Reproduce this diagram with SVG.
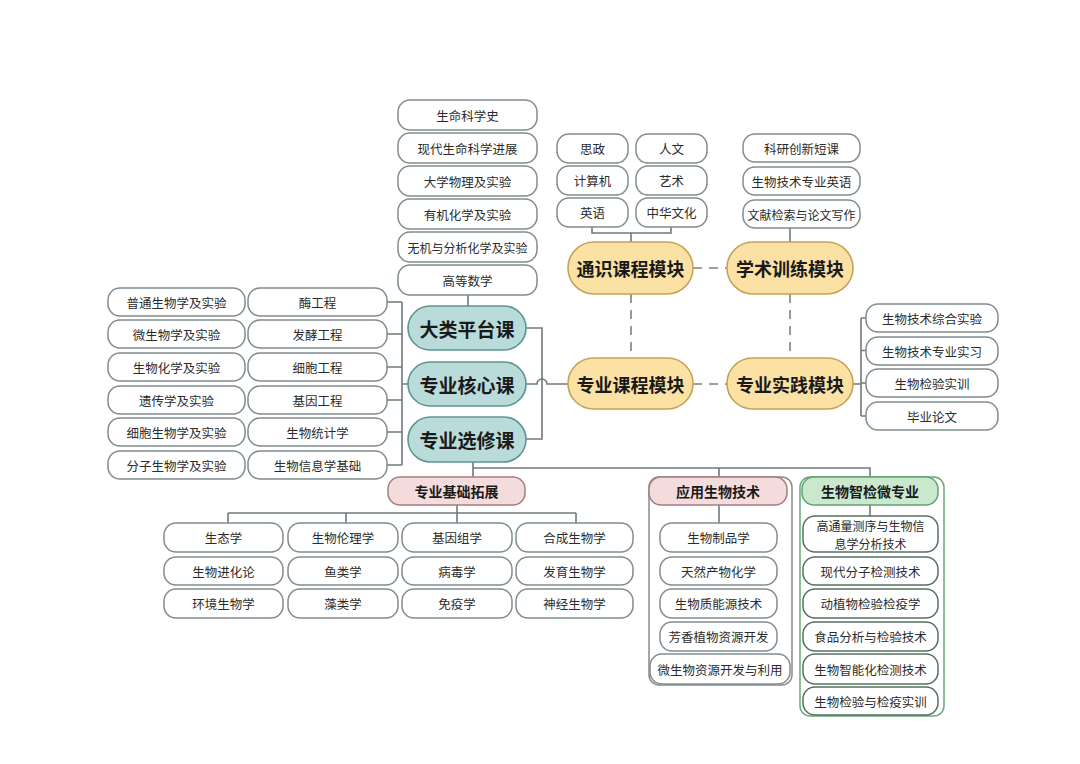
<svg xmlns="http://www.w3.org/2000/svg" width="1080" height="764" viewBox="0 0 1080 764">
<style>
text{font-family:"Noto Sans CJK SC","Noto Sans",sans-serif;fill:#2b2b2b;text-anchor:middle;dominant-baseline:central}
.b rect{fill:#fff;stroke:#808c90;stroke-width:1.5}
.b text{font-size:12.5px}
.g rect{fill:#fff;stroke:#55705f;stroke-width:1.5}
.g text{font-size:12.5px}
.y rect{fill:#fbe2a4;stroke:#c4a25c;stroke-width:1.6}
.y text{font-size:18px;font-weight:700;fill:#1a1a1a}
.t rect{fill:#b9dcda;stroke:#5e9593;stroke-width:1.6}
.t text{font-size:19px;font-weight:700;fill:#1a1a1a}
.p rect{fill:#f4dcdc;stroke:#a87c80;stroke-width:1.5}
.p text{font-size:14px;font-weight:700;fill:#1a1a1a}
.gh rect{fill:#c9e8ce;stroke:#5fa472;stroke-width:1.5}
.gh text{font-size:14px;font-weight:700;fill:#1a1a1a}
.frame{fill:none;stroke:#8a8a8a;stroke-width:1.5}
.gframe{fill:none;stroke:#6aa97b;stroke-width:1.5}
#connectors path{fill:none;stroke:#6e7a7d;stroke-width:1.6}
#connectors .d{stroke:#8a7f70;stroke-dasharray:9 7}
</style>
<rect width="1080" height="764" fill="#fff"/>
<g id="connectors">
<path d="M468 295V306"/>
<path d="M592 227V233H671V227M631 233V242"/>
<path d="M790 228V242"/>
<path class="d" d="M693 268H727"/>
<path class="d" d="M631 294V358"/>
<path class="d" d="M790 294V358"/>
<path class="d" d="M693 384H727"/>
<path d="M853 384H861M861 318V416M861 318H866M861 350.5H866M861 383H866M861 416H866"/>
<path d="M526 328H542V439H526"/>
<path d="M526 384H537A5 5 0 0 1 547 384H568"/>
<path d="M402 302V465M387 302H402M387 334H402M387 367H402M387 400H402M387 432H402M387 465H402M402 384H408"/>
<path d="M473 462V477M473 468H870V477M719 468V477"/>
<path d="M457 505V513M228 513H576M228 513V523M346 513V523M457 513V523M576 513V523"/>
<path d="M719 505V523"/>
<path d="M870 505V517"/>
</g>
<g id="n-dalei" class="b">
<g id="n-smkxs"><rect x="398" y="100" width="139" height="30" rx="12"/><text x="467.5" y="115">生命科学史</text></g>
<g id="n-xdsm"><rect x="398" y="133" width="139" height="30" rx="12"/><text x="467.5" y="148">现代生命科学进展</text></g>
<g id="n-dxwl"><rect x="398" y="166" width="139" height="30" rx="12"/><text x="467.5" y="181">大学物理及实验</text></g>
<g id="n-yjhx"><rect x="398" y="199" width="139" height="30" rx="12"/><text x="467.5" y="214">有机化学及实验</text></g>
<g id="n-wjfx"><rect x="398" y="232" width="139" height="30" rx="12"/><text x="467.5" y="247" style="font-size:12px">无机与分析化学及实验</text></g>
<g id="n-gdsx"><rect x="398" y="265" width="139" height="30" rx="12"/><text x="467.5" y="280">高等数学</text></g>
</g>
<g id="n-tongshi-items" class="b">
<g id="n-sz"><rect x="557" y="134" width="71" height="29" rx="12"/><text x="592.5" y="148.5">思政</text></g>
<g id="n-rw"><rect x="636" y="134" width="71" height="29" rx="12"/><text x="671.5" y="148.5">人文</text></g>
<g id="n-jsj"><rect x="557" y="166" width="71" height="29" rx="12"/><text x="592.5" y="180.5">计算机</text></g>
<g id="n-ys"><rect x="636" y="166" width="71" height="29" rx="12"/><text x="671.5" y="180.5">艺术</text></g>
<g id="n-yy"><rect x="557" y="198" width="71" height="29" rx="12"/><text x="592.5" y="212.5">英语</text></g>
<g id="n-zhwh"><rect x="636" y="198" width="71" height="29" rx="12"/><text x="671.5" y="212.5">中华文化</text></g>
</g>
<g id="n-xueshu-items" class="b">
<g id="n-kycx"><rect x="743" y="134" width="117" height="28" rx="12"/><text x="801.5" y="148">科研创新短课</text></g>
<g id="n-swjsyy"><rect x="743" y="167" width="117" height="28" rx="12"/><text x="801.5" y="181">生物技术专业英语</text></g>
<g id="n-wxjs"><rect x="743" y="200" width="117" height="28" rx="12"/><text x="801.5" y="214" style="font-size:12px">文献检索与论文写作</text></g>
</g>
<g id="n-tongshi" class="y"><rect x="568" y="242" width="125" height="52" rx="26"/><text x="630.5" y="268">通识课程模块</text></g>
<g id="n-xueshu" class="y"><rect x="727" y="242" width="126" height="52" rx="26"/><text x="790" y="268">学术训练模块</text></g>
<g id="n-zhuanye" class="y"><rect x="568" y="358" width="125" height="51" rx="25.5"/><text x="630.5" y="384">专业课程模块</text></g>
<g id="n-shijian" class="y"><rect x="727" y="358" width="126" height="51" rx="25.5"/><text x="790" y="384">专业实践模块</text></g>
<g id="n-shijian-items" class="b">
<g id="n-zhsy"><rect x="866" y="304" width="132" height="28" rx="12"/><text x="932" y="318">生物技术综合实验</text></g>
<g id="n-zysx"><rect x="866" y="337" width="132" height="28" rx="12"/><text x="932" y="351">生物技术专业实习</text></g>
<g id="n-jysx"><rect x="866" y="369" width="132" height="28" rx="12"/><text x="932" y="383">生物检验实训</text></g>
<g id="n-bylw"><rect x="866" y="402" width="132" height="28" rx="12"/><text x="932" y="416">毕业论文</text></g>
</g>
<g id="n-dlpt" class="t"><rect x="408" y="306" width="118" height="44" rx="22"/><text x="467" y="328">大类平台课</text></g>
<g id="n-zyhx" class="t"><rect x="408" y="362" width="118" height="44" rx="22"/><text x="467" y="384">专业核心课</text></g>
<g id="n-zyxx" class="t"><rect x="408" y="417" width="118" height="45" rx="22.5"/><text x="467" y="439.5">专业选修课</text></g>
<g id="n-core-left" class="b">
<g><rect x="108" y="288" width="137" height="28" rx="12"/><text x="176.5" y="302">普通生物学及实验</text></g>
<g><rect x="108" y="320" width="137" height="28" rx="12"/><text x="176.5" y="334">微生物学及实验</text></g>
<g><rect x="108" y="353" width="137" height="28" rx="12"/><text x="176.5" y="367">生物化学及实验</text></g>
<g><rect x="108" y="386" width="137" height="28" rx="12"/><text x="176.5" y="400">遗传学及实验</text></g>
<g><rect x="108" y="418" width="137" height="28" rx="12"/><text x="176.5" y="432">细胞生物学及实验</text></g>
<g><rect x="108" y="451" width="137" height="28" rx="12"/><text x="176.5" y="465">分子生物学及实验</text></g>
</g>
<g id="n-core-right" class="b">
<g><rect x="248" y="288" width="139" height="28" rx="12"/><text x="317.5" y="302">酶工程</text></g>
<g><rect x="248" y="320" width="139" height="28" rx="12"/><text x="317.5" y="334">发酵工程</text></g>
<g><rect x="248" y="353" width="139" height="28" rx="12"/><text x="317.5" y="367">细胞工程</text></g>
<g><rect x="248" y="386" width="139" height="28" rx="12"/><text x="317.5" y="400">基因工程</text></g>
<g><rect x="248" y="418" width="139" height="28" rx="12"/><text x="317.5" y="432">生物统计学</text></g>
<g><rect x="248" y="451" width="139" height="28" rx="12"/><text x="317.5" y="465">生物信息学基础</text></g>
</g>
<g id="n-jichu" class="p"><rect x="388" y="477" width="137" height="28" rx="12"/><text x="456.5" y="491">专业基础拓展</text></g>
<g id="n-jichu-items" class="b">
<g><rect x="164" y="523" width="119" height="29" rx="12"/><text x="223.5" y="537.5">生态学</text></g>
<g><rect x="164" y="557" width="119" height="28" rx="12"/><text x="223.5" y="571">生物进化论</text></g>
<g><rect x="164" y="589" width="119" height="29" rx="12"/><text x="223.5" y="603.5">环境生物学</text></g>
<g><rect x="288" y="523" width="110" height="29" rx="12"/><text x="343" y="537.5">生物伦理学</text></g>
<g><rect x="288" y="557" width="110" height="28" rx="12"/><text x="343" y="571">鱼类学</text></g>
<g><rect x="288" y="589" width="110" height="29" rx="12"/><text x="343" y="603.5">藻类学</text></g>
<g><rect x="402" y="523" width="110" height="29" rx="12"/><text x="457" y="537.5">基因组学</text></g>
<g><rect x="402" y="557" width="110" height="28" rx="12"/><text x="457" y="571">病毒学</text></g>
<g><rect x="402" y="589" width="110" height="29" rx="12"/><text x="457" y="603.5">免疫学</text></g>
<g><rect x="516" y="523" width="117" height="29" rx="12"/><text x="574.5" y="537.5">合成生物学</text></g>
<g><rect x="516" y="557" width="117" height="28" rx="12"/><text x="574.5" y="571">发育生物学</text></g>
<g><rect x="516" y="589" width="117" height="29" rx="12"/><text x="574.5" y="603.5">神经生物学</text></g>
</g>
<g id="n-yingyong">
<rect class="frame" x="649" y="477" width="143" height="208" rx="10"/>
<g class="p"><rect x="649" y="477" width="138" height="28" rx="12"/><text x="718" y="491">应用生物技术</text></g>
<g class="b">
<g><rect x="660" y="523" width="117" height="29" rx="12"/><text x="718.5" y="537.5">生物制品学</text></g>
<g><rect x="660" y="557" width="117" height="28" rx="12"/><text x="718.5" y="571">天然产物化学</text></g>
<g><rect x="660" y="589" width="117" height="29" rx="12"/><text x="718.5" y="603.5">生物质能源技术</text></g>
<g><rect x="660" y="622" width="117" height="29" rx="12"/><text x="718.5" y="636.5">芳香植物资源开发</text></g>
<g><rect x="650" y="654" width="140" height="30" rx="12"/><text x="720" y="669">微生物资源开发与利用</text></g>
</g>
</g>
<g id="n-zhijian">
<rect class="gframe" x="800" y="477" width="144" height="239" rx="10"/>
<g class="gh"><rect x="802" y="477" width="136" height="28" rx="12"/><text x="870" y="491">生物智检微专业</text></g>
<g class="g">
<g><rect x="803" y="516" width="135" height="36" rx="12"/><text x="870.5" y="525.5" style="font-size:12px">高通量测序与生物信</text><text x="870.5" y="543.5" style="font-size:12px">息学分析技术</text></g>
<g><rect x="803" y="557" width="135" height="28" rx="12"/><text x="870.5" y="571">现代分子检测技术</text></g>
<g><rect x="803" y="589" width="135" height="29" rx="12"/><text x="870.5" y="603.5">动植物检验检疫学</text></g>
<g><rect x="803" y="622" width="135" height="29" rx="12"/><text x="870.5" y="636.5">食品分析与检验技术</text></g>
<g><rect x="803" y="654" width="135" height="30" rx="12"/><text x="870.5" y="669">生物智能化检测技术</text></g>
<g><rect x="803" y="687" width="135" height="28" rx="12"/><text x="870.5" y="701">生物检验与检疫实训</text></g>
</g>
</g>
</svg>
